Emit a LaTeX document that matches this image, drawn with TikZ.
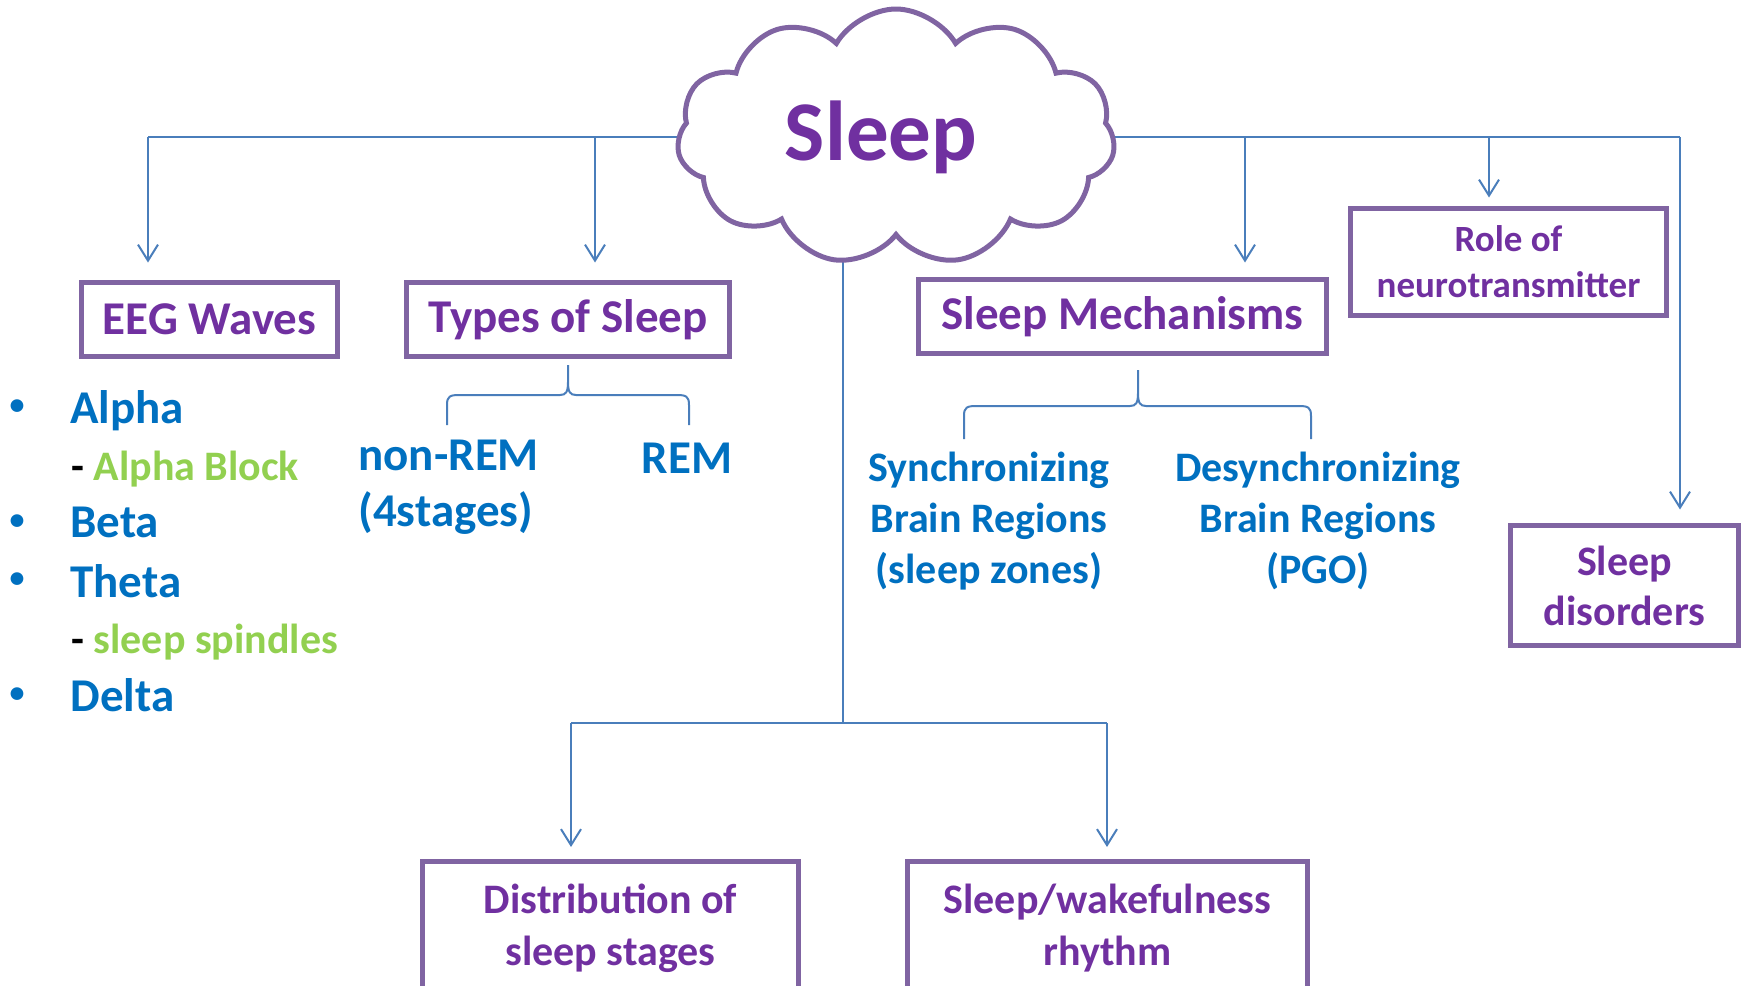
\documentclass[tikz,border=0pt]{standalone}
\usepackage{fontspec}
\setmainfont{Carlito}
\usetikzlibrary{positioning,shapes.symbols,arrows.meta,backgrounds}

\definecolor{linkblue}{HTML}{4A7EBB}
\definecolor{boxpurple}{HTML}{8064A2}
\definecolor{textpurple}{HTML}{7030A0}
\definecolor{itemblue}{HTML}{0070C0}
\definecolor{subgreen}{HTML}{92D050}

\tikzset{
  box/.style={draw=boxpurple, line width=2.5pt, inner sep=0pt, align=center,
    text=textpurple, font=\bfseries\fontsize{23.5pt}{28pt}\selectfont},
  link/.style={draw=linkblue, line width=1pt},
  arr/.style={link, -{Straight Barb[length=8pt,width=10pt]}, shorten >=#1},
  arr/.default=8pt,
  item/.style={anchor=base west, inner sep=0pt, text=itemblue,
    font=\bfseries\fontsize{23.5pt}{28pt}\selectfont},
  dot/.style={inner sep=0pt, text=itemblue, font=\bfseries\fontsize{15pt}{15pt}\selectfont},
  subitem/.style={anchor=base west, inner sep=0pt, text=black,
    font=\bfseries\fontsize{21pt}{25pt}\selectfont},
  region/.style={align=center, inner sep=0pt, text=itemblue,
    font=\bfseries\fontsize{21pt}{25.5pt}\selectfont}
}

% curly split under a box: x left, x mid, x right, y tip, y bar, y end
\newcommand{\splitbrace}[6]{%
  \draw[link] (#1,#6) -- (#1,#5+10) .. controls (#1,#5+1) and (#1+3,#5) .. (#1+13,#5)
    -- (#2-8,#5) .. controls (#2-2,#5) and (#2,#5-3) .. (#2,#5-13) -- (#2,#4)
    -- (#2,#5-13) .. controls (#2,#5-3) and (#2+2,#5) .. (#2+8,#5)
    -- (#3-13,#5) .. controls (#3-3,#5) and (#3,#5+1) .. (#3,#5+10) -- (#3,#6);}

\begin{document}
\begin{tikzpicture}[x=0.5pt, y=-0.5pt]
\useasboundingbox (0,0) rectangle (1744,985);
\clip (0,0) rectangle (1744,985);

% centre
\node[cloud, cloud puffs=11, cloud puff arc=120, cloud ignores aspect,
  minimum width=219pt, minimum height=128pt, draw=boxpurple, line width=2.5pt,
  fill=white, text=textpurple, font=\bfseries\fontsize{42.5pt}{50pt}\selectfont]
  (sleep) at (896,137) {Sleep\kern15pt};

% boxes
\node[box, minimum width=128pt, minimum height=37pt] (eeg) at (209.5,319.5) {EEG Waves};
\node[box, minimum width=161.5pt, minimum height=37pt] (types) at (568,319.5) {Types of Sleep};
\node[box, minimum width=204pt, minimum height=37pt] (mech) at (1122.5,316.5) {Sleep Mechanisms};
\node[box, minimum width=158pt, minimum height=53.5pt,
  font=\bfseries\fontsize{18.5pt}{23pt}\selectfont] (role) at (1508.5,262) {Role of\\neurotransmitter};
\node[box, minimum width=114pt, minimum height=60pt,
  font=\bfseries\fontsize{21pt}{25pt}\selectfont] (dis) at (1624.5,585.5) {Sleep\\disorders};
\node[box, minimum width=188pt, minimum height=67pt,
  font=\bfseries\fontsize{21pt}{26pt}\selectfont] (dist) at (610.5,928) {Distribution of\\sleep stages};
\node[box, minimum width=200pt, minimum height=67pt,
  font=\bfseries\fontsize{21pt}{26pt}\selectfont] (rhy) at (1107.5,928) {Sleep/wakefulness\\rhythm};

% wave list
\node[item] (alpha) at (70,423) {Alpha};
\node[dot] at (17,407) {•};
\node[subitem] (ablock) at (71,480) {- \textcolor{subgreen}{Alpha Block}};
\node[item] (beta) at (70,537) {Beta};
\node[dot] at (17,522) {•};
\node[item] (theta) at (70,597) {Theta};
\node[dot] at (17,580) {•};
\node[subitem] (spind) at (71,653) {- \textcolor{subgreen}{sleep spindles}};
\node[item] (delta) at (70,711) {Delta};
\node[dot] at (17,695) {•};

% types of sleep
\node[item, anchor=west, align=left] (nrem) at (358,487) {non-REM\\(4stages)};
\node[item, anchor=base] (rem) at (687,473) {REM};
\splitbrace{447}{568}{689}{365}{395}{425}

% mechanisms
\node[region] (sync) at (989,521) {Synchronizing\\Brain Regions\\(sleep zones)};
\node[region] (desync) at (1318,521) {Desynchronizing\\Brain Regions\\(PGO)};
\splitbrace{964}{1138}{1311}{370}{406}{439}

% trunk, hidden behind the cloud
\begin{scope}[on background layer]
\coordinate (jEEG) at (148,137);
\coordinate (jTypes) at (595,137);
\coordinate (jMech) at (1245,137);
\coordinate (jRole) at (1489,137);
\coordinate (jDis) at (1680,137);
\coordinate (jDown) at (843,137);
\coordinate (jBot) at (843,723);
\coordinate (jDist) at (571,723);
\coordinate (jRhy) at (1107,723);
\draw[link] (jEEG) -- (jDis);
\draw[link] (jDown) -- (jBot);
\draw[link] (jDist) -- (jRhy);
\end{scope}

\draw[arr=8.75pt] (jEEG) -- (jEEG |- eeg.north);
\draw[arr=8.75pt] (jTypes) -- (jTypes |- types.north);
\draw[arr=7.25pt] (jMech) -- (jMech |- mech.north);
\draw[arr=4.25pt] (jRole) -- (jRole |- role.north);
\draw[arr=6.75pt] (jDis) -- (jDis |- dis.north);
\draw[arr=5.75pt] (jDist) -- (jDist |- dist.north);
\draw[arr=5.75pt] (jRhy) -- (jRhy |- rhy.north);

\end{tikzpicture}
\end{document}
